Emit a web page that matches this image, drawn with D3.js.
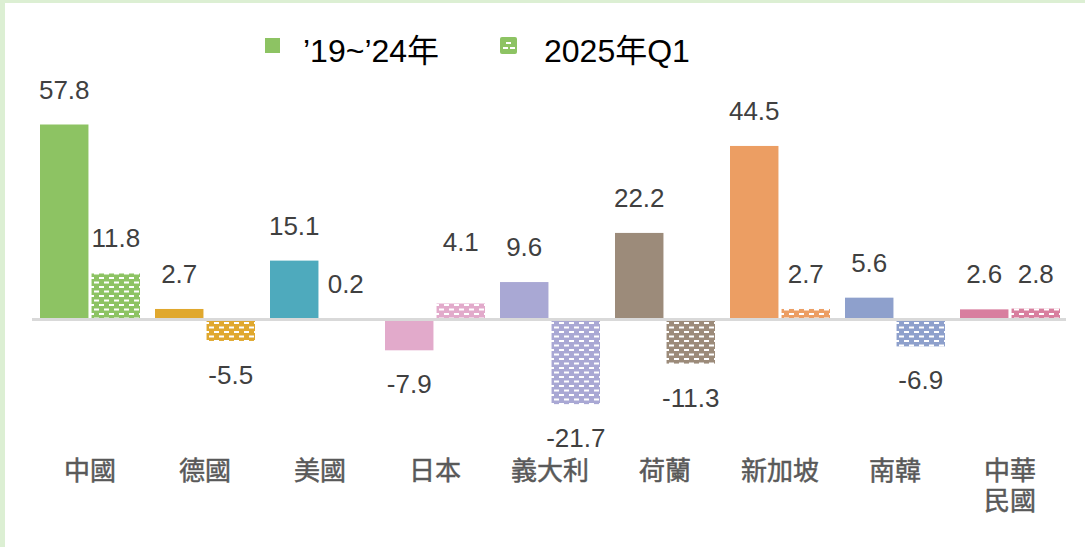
<!DOCTYPE html>
<html>
<head>
<meta charset="utf-8">
<script src="https://cdn.jsdelivr.net/npm/d3@7"></script>
<style>
  body { margin: 0; background: #fff; }
  svg { display: block; }
  text { font-family: "Liberation Sans", Arial, "Noto Sans CJK TC", sans-serif; }
</style>
</head>
<body>
<svg id="chart" width="1085" height="547"></svg>
<script>
// Data
const countries = ['中國', '德國', '美國', '日本', '義大利', '荷蘭', '新加坡', '南韓', '中華民國'];
const avg1924   = [57.8, 2.7, 15.1, -7.9, 9.6, 22.2, 44.5, 5.6, 2.6];
const q1_2025   = [11.8, -5.5, 0.2, 4.1, -21.7, -11.3, 2.7, -6.9, 2.8];
const colors    = ['#8dc363', '#e0a82e', '#4eaabd', '#e2aacb', '#a9a8d4', '#9c8b7a', '#ec9e63', '#8ea0cc', '#d87f9f'];
const seriesNames = ["’19~’24年", '2025年Q1'];

const svg = d3.select('#chart');

// frame edges
svg.append('rect').attr('x', 0).attr('y', 0).attr('width', 1085).attr('height', 3).attr('fill', '#dcefd3');
svg.append('rect').attr('x', 0).attr('y', 0).attr('width', 5).attr('height', 547).attr('fill', '#dcefd3');

// patterns for the Q1 bars
const defs = svg.append('defs');
function addPattern(id, c) {
  let p = defs.append('pattern').attr('id', id).attr('patternUnits', 'userSpaceOnUse')
    .attr('width', 10).attr('height', 9).attr('x', 0).attr('y', 1);
  p.append('rect').attr('width', 10).attr('height', 9).attr('fill', c);
  p.append('rect').attr('x', 1).attr('y', 1.5).attr('width', 5).attr('height', 2).attr('fill', '#fff');
  p.append('rect').attr('x', 6).attr('y', 6).attr('width', 5).attr('height', 2).attr('fill', '#fff');
  p.append('rect').attr('x', -4).attr('y', 6).attr('width', 5).attr('height', 2).attr('fill', '#fff');
}
colors.forEach((c, i) => addPattern('pat' + i, c));

// scales
const x0 = d3.scaleBand().domain(countries).range([33, 1068]);
const x1 = d3.scaleBand().domain([0, 1]).range([7, 107]).paddingInner(0.06);
const y = d3.scaleLinear().domain([-30, 50]).range([436.5, 124.5]).clamp(true);

const rows = countries.map((c, i) => ({ c: c, i: i, v: [avg1924[i], q1_2025[i]] }));

const groups = svg.append('g').selectAll('g').data(rows).join('g')
  .attr('transform', d => `translate(${x0(d.c)},0)`);

groups.selectAll('rect').data(d => d.v.map((v, s) => ({ v: v, s: s, i: d.i }))).join('rect')
  .attr('x', d => x1(d.s))
  .attr('width', x1.bandwidth())
  .attr('y', d => Math.min(y(d.v), y(0)))
  .attr('height', d => Math.abs(y(d.v) - y(0)))
  .attr('fill', d => d.s === 0 ? colors[d.i] : `url(#pat${d.i})`);

// manual label lift (one label was moved up in the original)
const nudge = { '日本-1': -27 };

groups.selectAll('text.val').data(d => d.v.map((v, s) => ({ v: v, s: s, c: d.c }))).join('text')
  .attr('class', 'val')
  .attr('x', d => x1(d.s) + x1.bandwidth() / 2)
  .attr('y', d => (d.v >= 0 ? y(d.v) - 26 : y(d.v) + 43) + (nudge[d.c + '-' + d.s] || 0))
  .attr('text-anchor', 'middle')
  .attr('font-size', 26)
  .attr('fill', '#404040')
  .text(d => d.v.toFixed(1));

// zero line
svg.append('line').attr('x1', 32).attr('x2', 1066).attr('y1', y(0)).attr('y2', y(0))
  .attr('stroke', '#d9d9d9').attr('stroke-width', 3);

// category labels (long names wrap onto two lines)
groups.each(function(d) {
  const lines = d.c.length > 3 ? [d.c.slice(0, 2), d.c.slice(2)] : [d.c];
  d3.select(this).selectAll('text.cat').data(lines).join('text')
    .attr('class', 'cat')
    .attr('x', 57).attr('y', (l, k) => 480 + k * 30)
    .attr('text-anchor', 'middle')
    .attr('font-size', 26).attr('fill', '#595959')
    .attr('stroke', '#595959').attr('stroke-width', 0.5)
    .text(l => l);
});

// legend
const leg = svg.append('g');
leg.append('rect').attr('x', 265).attr('y', 38).attr('width', 15).attr('height', 15).attr('fill', colors[0]);
leg.append('text').attr('x', 303).attr('y', 62).attr('font-size', 32).attr('fill', '#000').text(seriesNames[0]);
leg.append('rect').attr('x', 500).attr('y', 37).attr('width', 17).attr('height', 17).attr('rx', 2).attr('fill', colors[0]);
leg.append('rect').attr('x', 506).attr('y', 42).attr('width', 5).attr('height', 2).attr('fill', '#fff');
leg.append('rect').attr('x', 503).attr('y', 47).attr('width', 5).attr('height', 2).attr('fill', '#fff');
leg.append('rect').attr('x', 510).attr('y', 47).attr('width', 5).attr('height', 2).attr('fill', '#fff');
leg.append('text').attr('x', 544).attr('y', 62).attr('font-size', 32).attr('fill', '#000').text(seriesNames[1]);
</script>
</body>
</html>
